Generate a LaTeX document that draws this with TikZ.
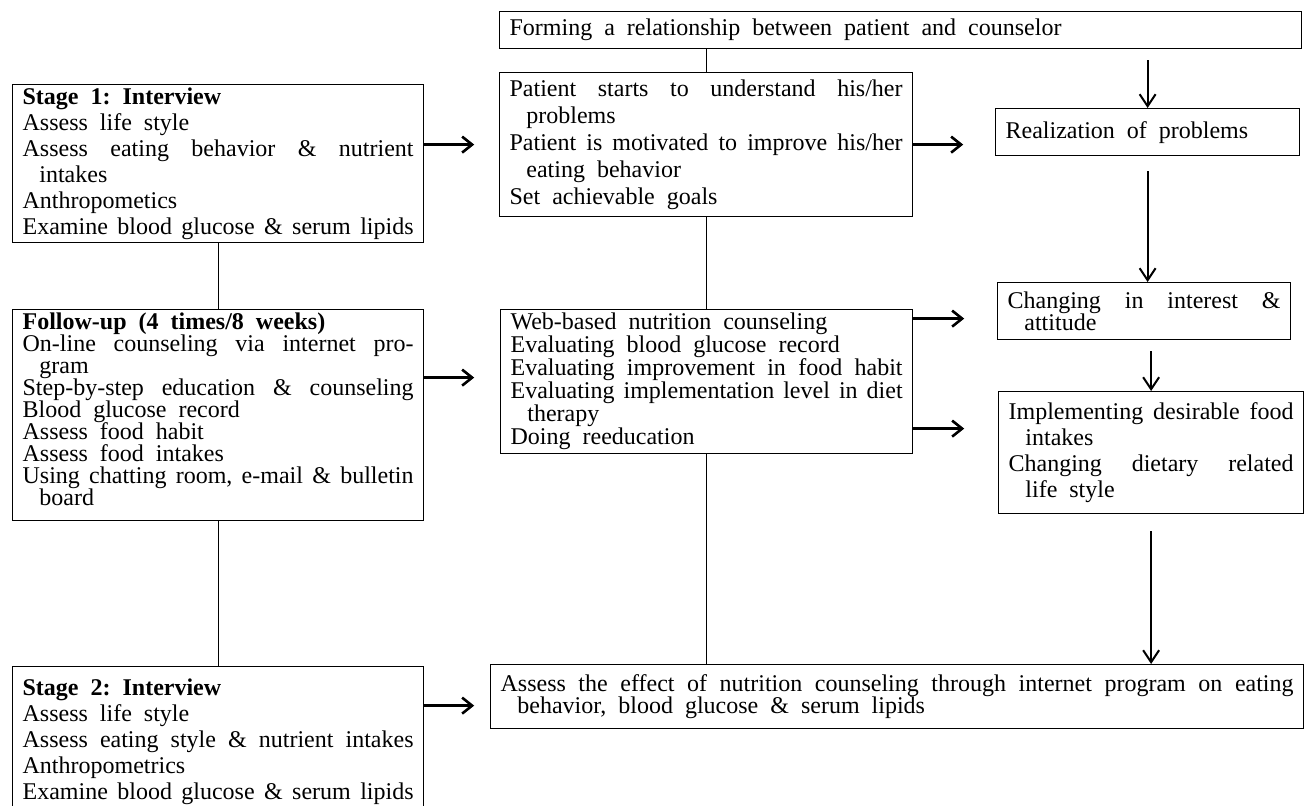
\documentclass[tikz,border=0pt]{standalone}
\usepackage{fontspec}
\setmainfont{Liberation Serif}
\usetikzlibrary{arrows.meta}

\newcommand{\fl}[1]{\makebox[\hsize][s]{#1}}
\newcommand{\ind}{\hspace*{0.7em}}
\newcommand{\widespace}{\frenchspacing\lineskiplimit=-10pt\spaceskip=6pt plus 3pt minus 2pt\relax}

\begin{document}
\begin{tikzpicture}
    [
      x = 0.5pt, y = -0.5pt,
      box/.style  = {draw, line width=0.6pt, anchor=north west, inner xsep=5pt, inner ysep=1.5pt, align=left,
                     execute at begin node=\widespace},
      lead/.style = {font=\fontsize{12}{#1}\selectfont},
      arr/.style  = {line width=1.3pt, -{Straight Barb[length=5pt,width=8pt]}},
      varr/.style = {line width=1pt, -{Straight Barb[length=6pt,width=8pt]}},
      link/.style = {line width=0.5pt},
    ]
    \useasboundingbox (0,0) rectangle (1305,805);

    \node[box, lead=12, text width=391pt, minimum height=18.5pt] (form) at (499,11)
      {Forming a relationship between patient and counselor};

    \node[box, lead=13, text width=195.5pt, minimum height=79pt] (stage1) at (12,84)
      {\textbf{Stage 1: Interview}\\
       Assess life style\\
       \fl{Assess eating behavior \& nutrient}\\
       \ind intakes\\
       Anthropometics\\
       \fl{Examine blood glucose \& serum lipids}};

    \node[box, lead=13.5, text width=196.5pt, minimum height=72pt] (patient) at (499,72)
      {\fl{Patient starts to understand his/her}\\
       \ind problems\\
       \fl{Patient is motivated to improve his/her}\\
       \ind eating behavior\\
       Set achievable goals};

    \node[box, lead=12, text width=142pt, minimum height=23.5pt] (real) at (995,108)
      {Realization of problems};

    \node[box, lead=11, text width=195.5pt, minimum height=105.5pt] (follow) at (12,309)
      {\textbf{Follow-up (4 times/8 weeks)}\\
       \fl{On-line counseling via internet pro-}\\
       \ind gram\\
       \fl{Step-by-step education \& counseling}\\
       Blood glucose record\\
       Assess food habit\\
       Assess food intakes\\
       \fl{Using chatting room, e-mail \& bulletin}\\
       \ind board\rule[-6pt]{0pt}{6pt}};

    \node[box, lead=11.5, text width=196pt, minimum height=72pt] (web) at (500,309)
      {Web-based nutrition counseling\\
       Evaluating blood glucose record\\
       \fl{Evaluating improvement in food habit}\\
       \fl{Evaluating implementation level in diet}\\
       \ind therapy\\
       Doing reeducation};

    \node[box, lead=11, text width=136.5pt, minimum height=28.5pt] (chg) at (997,282)
      {\fl{Changing in interest \&}\\
       \ind attitude};

    \node[box, lead=13, text width=142.5pt, minimum height=61pt] (impl) at (998,391)
      {\fl{Implementing desirable food}\\
       \ind intakes\\
       \fl{Changing dietary related}\\
       \ind life style};

    \node[box, lead=13, text width=195.5pt, inner ysep=6pt] (stage2) at (12,666)
      {\textbf{Stage 2: Interview}\\
       Assess life style\\
       \fl{Assess eating style \& nutrient intakes}\\
       Anthropometrics\\
       \fl{Examine blood glucose \& serum lipids}};

    \node[box, lead=11, text width=396.5pt, minimum height=32pt] (assess) at (490,664)
      {\fl{Assess the effect of nutrition counseling through internet program on eating}\\
       \ind behavior, blood glucose \& serum lipids};

    \draw[link] (form.south -| patient.north) -- (patient.north);
    \draw[link] (patient.south) -- (patient.south |- web.north);
    \draw[link] (web.south) -- (web.south |- assess.north);
    \draw[link, xshift=-7pt] (stage1.south) -- (stage1.south |- follow.north);
    \draw[link, xshift=-7pt] (follow.south) -- (follow.south |- stage2.north);

    \draw[arr] (stage1.east |- patient.west) -- ++(50,0);
    \draw[arr] (patient.east) -- ++(50,0);
    \draw[arr] (follow.east |- web.west) ++(0,-4) -- ++(50,0);
    \draw[arr] (web.east) ++(0,-63) -- ++(51,0);
    \draw[arr] (web.east) ++(0,47) -- ++(51,0);
    \draw[arr] (stage2.east |- assess.west) ++(0,9) -- ++(50,0);

    \draw[varr] (real.north) ++(0,-48) -- (real.north);
    \draw[varr] (real.south) ++(0,15) -- (real.south |- chg.north);
    \draw[varr] (impl.north |- chg.south) ++(0,11) -- (impl.north);
    \draw[varr] (impl.south) ++(0,17) -- (impl.south |- assess.north);

  \end{tikzpicture}
\end{document}
